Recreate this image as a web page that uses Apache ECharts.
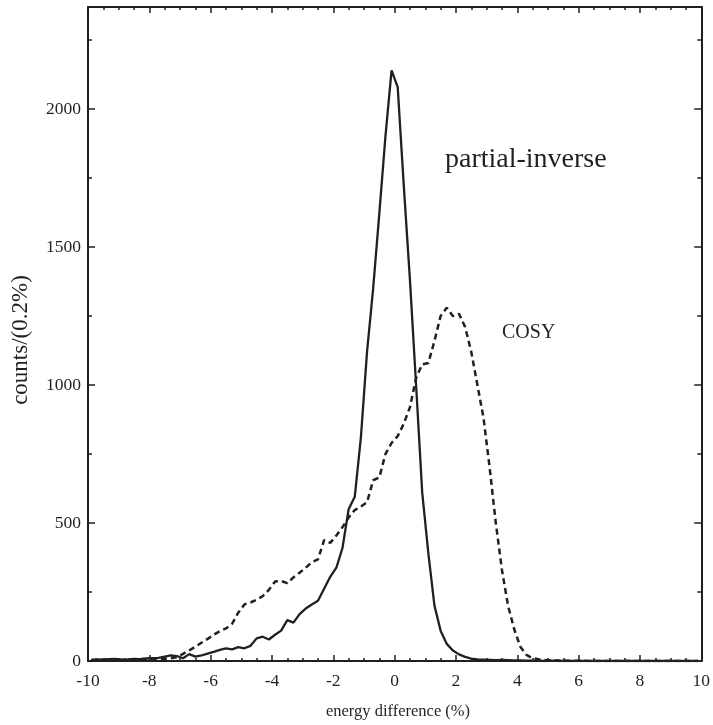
<!DOCTYPE html>
<html>
<head>
<meta charset="utf-8">
<script src="https://cdn.jsdelivr.net/npm/echarts@6/dist/echarts.min.js"></script>
<style>html,body{margin:0;padding:0;background:#fff;}#c{width:713px;height:725px;}</style>
</head>
<body>
<div id="c"></div>
<script>
// bin centres (energy difference, %), 0.2% bins
var binCenters = [-9.9,-9.7,-9.5,-9.3,-9.1,-8.9,-8.7,-8.5,-8.3,-8.1,
  -7.9,-7.7,-7.5,-7.3,-7.1,-6.9,-6.7,-6.5,-6.3,-6.1,
  -5.9,-5.7,-5.5,-5.3,-5.1,-4.9,-4.7,-4.5,-4.3,-4.1,
  -3.9,-3.7,-3.5,-3.3,-3.1,-2.9,-2.7,-2.5,-2.3,-2.1,
  -1.9,-1.7,-1.5,-1.3,-1.1,-0.9,-0.7,-0.5,-0.3,-0.1,
  0.1,0.3,0.5,0.7,0.9,1.1,1.3,1.5,1.7,1.9,
  2.1,2.3,2.5,2.7,2.9,3.1,3.3,3.5,3.7,3.9,
  4.1,4.3,4.5,4.7,4.9,5.1,5.3,5.5,5.7,5.9,
  6.1,6.3,6.5,6.7,6.9,7.1,7.3,7.5,7.7,7.9,
  8.1,8.3,8.5,8.7,8.9,9.1,9.3,9.5,9.7,9.9];

var partialInverse = [4,6,5,7,8,5,6,8,7,9,
  10,11,16,20,18,10,25,16,20,27,
  33,40,46,42,50,46,55,82,88,78,
  95,110,148,139,170,190,205,218,262,305,
  338,410,550,595,810,1120,1350,1620,1900,2140,
  2080,1720,1380,1000,610,390,200,110,62,38,
  24,15,9,6,5,4,3,4,3,2,
  2,1,1,1,0,1,0,0,0,0,
  0,0,0,0,0,0,0,0,0,0,
  0,0,0,0,0,0,0,0,0,0];

var cosy = [3,5,4,6,5,4,6,5,7,6,
  5,7,8,10,14,26,38,52,66,80,
  95,108,118,135,175,205,212,222,235,258,
  288,290,282,303,320,338,358,368,438,428,
  455,485,520,547,560,575,655,665,750,790,
  815,860,920,1025,1075,1080,1160,1250,1280,1250,
  1258,1210,1120,1000,880,700,500,330,200,115,
  52,22,10,6,4,3,2,2,1,1,
  1,0,0,0,0,0,0,0,0,0,
  0,0,0,0,0,0,0,0,0,0];

var xTickLabels = ['-10','-8','-6','-4','-2','0','2','4','6','8','10'];
var yTickLabels = ['0','500','1000','1500','2000'];

var INK = '#231f20';
var FONT = '"Liberation Serif", "DejaVu Serif", serif';

function pairs(xs, ys){ var out=[]; for (var i=0;i<xs.length;i++) out.push([xs[i], ys[i]]); return out; }

var chart = echarts.init(document.getElementById('c'), null, {renderer:'canvas'});

function xAx(pos, labels){
  return {
    type:'value', position:pos, min:-10, max:10, interval:2,
    axisLine:{show:true, onZero:false, lineStyle:{color:INK, width:2}},
    axisTick:{show:true, inside:true, length:6, lineStyle:{color:INK, width:1.5}},
    minorTick:{show:true, splitNumber:4, length:3, lineStyle:{color:INK, width:1.5}},
    splitLine:{show:false}, minorSplitLine:{show:false},
    axisLabel:{show:labels, margin:11, color:INK, fontFamily:FONT, fontSize:17.5,
      formatter:function(v){ var k = Math.round((v+10)/2); return xTickLabels[k] !== undefined ? xTickLabels[k] : ''; }}
  };
}
function yAx(pos, interval, tickLen, showLine, labels){
  return {
    type:'value', position:pos, min:0, max:2370, interval:interval,
    axisLine:{show:showLine, onZero:false, lineStyle:{color:INK, width:2}},
    axisTick:{show:true, inside:true, length:tickLen, lineStyle:{color:INK, width:1.5}},
    splitLine:{show:false},
    axisLabel:{show:labels, margin:7, color:INK, fontFamily:FONT, fontSize:17.5, showMaxLabel:false,
      formatter:function(v){ var k = Math.round(v/500); return (v % 500 === 0 && yTickLabels[k] !== undefined) ? yTickLabels[k] : ''; }}
  };
}

chart.setOption({
  animation:false,
  backgroundColor:'#fff',
  grid:{left:88, right:8, top:7, bottom:64, containLabel:false},
  xAxis:[xAx('bottom', true), xAx('top', false)],
  yAxis:[
    yAx('left', 500, 7, true, true),
    yAx('left', 250, 4, false, false),
    yAx('right', 500, 7, true, false),
    yAx('right', 250, 4, false, false)
  ],
  series:[
    {type:'line', name:'partial-inverse', xAxisIndex:0, yAxisIndex:0, data:pairs(binCenters, partialInverse),
      showSymbol:false, symbol:'none', smooth:false, lineStyle:{color:INK, width:2.3}, z:3},
    {type:'line', name:'COSY', xAxisIndex:0, yAxisIndex:0, data:pairs(binCenters, cosy),
      showSymbol:false, symbol:'none', smooth:false, lineStyle:{color:INK, width:2.5, type:[6,4]}, z:2}
  ],
  graphic:[
    {type:'text', left:445, top:146, style:{text:'partial-inverse', fill:INK, font:'28px ' + FONT}},
    {type:'text', left:502, top:323, style:{text:'COSY', fill:INK, font:'20px ' + FONT}},
    {type:'text', x:398, y:712, style:{text:'energy difference (%)', fill:INK, font:'16.5px ' + FONT, align:'center', verticalAlign:'middle'}},
    {type:'text', x:21, y:340, rotation:Math.PI/2, style:{text:'counts/(0.2%)', fill:INK, font:'23px ' + FONT, align:'center', verticalAlign:'middle'}}
  ]
});
</script>
</body>
</html>
